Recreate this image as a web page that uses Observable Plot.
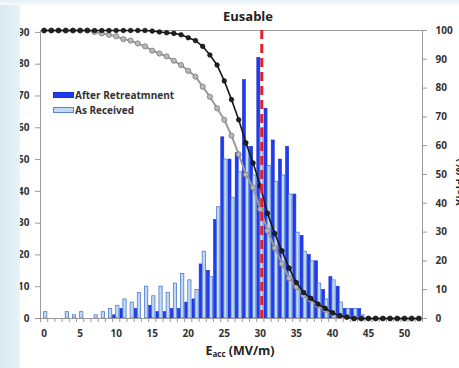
<!DOCTYPE html>
<html><head><meta charset="utf-8">
<script src="https://cdn.jsdelivr.net/npm/d3@7"></script>
<script src="https://cdn.jsdelivr.net/npm/@observablehq/plot@0.6"></script>
<style>
html,body{margin:0;padding:0;background:#fff;}
#wrap{position:relative;width:459px;height:368px;overflow:hidden;font-family:"Open Sans",sans-serif;color:#333;}
#chart{position:absolute;left:0;top:0;}
#chart svg{display:block;}
.strip-left{position:absolute;left:0;top:0;width:20px;height:368px;background:linear-gradient(to right,#d6e7ef,#e8f2f7);opacity:0.96;}
.strip-top{position:absolute;left:0;top:0;width:459px;height:5px;background:linear-gradient(to bottom,#e6f0f5,#f6fafc);}
.title{position:absolute;top:7px;left:248px;transform:translateX(-50%);font-weight:700;font-size:13px;color:#222;white-space:nowrap;}
.xtitle{position:absolute;top:342px;left:240px;transform:translateX(-50%);font-weight:700;font-size:12.5px;color:#222;white-space:nowrap;}
.xtitle sub{font-size:8px;vertical-align:-2px;}
.ytitle{position:absolute;left:459px;top:182px;transform:translate(-50%,-50%) rotate(-90deg);font-weight:700;font-size:11px;color:#222;white-space:nowrap;}
.leg{position:absolute;left:53px;font-size:10px;font-weight:700;color:#333;white-space:nowrap;line-height:12px;}
.sw{display:inline-block;width:21px;height:6px;vertical-align:1px;margin-right:1px;box-sizing:border-box;}
</style></head>
<body>
<div id="wrap">
  <div id="chart"></div>
  <div class="title">Eusable</div>
  <div class="xtitle">E<sub>acc</sub> (MV/m)</div>
  <div class="ytitle">Yield (%)</div>
  <div class="leg" style="top:89px"><span class="sw" style="background:#1f3cf5;border:1px solid #1a2ec8"></span>After Retreatmnent</div>
  <div class="leg" style="top:104px"><span class="sw" style="background:#c4d8f3;border:1px solid #5a84cf"></span>As Received</div>
  <div class="strip-left"></div>
  <div class="strip-top"></div>
</div>
<script>
const categories = [0,1,2,3,4,5,6,7,8,9,10,11,12,13,14,15,16,17,18,19,20,21,22,23,24,25,26,27,28,29,30,31,32,33,34,35,36,37,38,39,40,41,42,43,44,45,46,47,48,49,50,51,52];
const afterRetreatment = [0,0,0,0,0,0,0,0,0,0, 1,3,0,3,0,4,2,2,3,3, 5,6,17,15,31,57,50,52,75,54, 82,66,56,50,54,39,26,20,18,9, 13,10,3,3,3,0,0,0,0,0, 0,0,0];
const asReceived = [2,0,0,2,1,2,0,1,2,3, 4,6,5,8,10,7,10,8,11,14, 12,9,21,13,35,50,38,46,54,45, 60,48,43,45,39,27,21,18,11,6, 12,5,3,3,1,0,0,0,0,0, 0,0,0];
const yieldAfter = [100,100,100,100,100,100,100,100,100,100, 100,100,100,100,100,99.8,99.5,99.2,99,98.5, 97.5,96.5,94.5,91.5,88,82.5,76,69,61,54, 46,36.5,29.5,23.5,17.5,12.5,9,7,5,3.5, 2,1,0.5,0,0,0,0,0,0,0, 0,0,0];
const yieldReceived = [100,100,100,100,100,100,100,99.5,99,98.5, 98,97,96.5,95.5,94.5,93,92,91,89.5,88, 86,84,80.5,77,73,69,63.5,57,50,45.5, 38,30.5,24.5,19,14,11,8,6.5,4.5,3, 1.8,1,0.5,0,0,0,0,0,0,0, 0,0,0];
const xTickLabels = [0,5,10,15,20,25,30,35,40,45,50];
const leftTicks = [0,10,20,30,40,50,60,70,80,90];
const rightTicks = [0,10,20,30,40,50,60,70,80,90,100];
const usableE = [30.2];

const yMax = 90.6;
const k = yMax / 100;
const data = categories.map((x, i) => ({x, after: afterRetreatment[i], received: asReceived[i], yA: yieldAfter[i] * k, yR: yieldReceived[i] * k}));
const boundaries = categories.map(x => x - 0.5).concat([categories[categories.length - 1] + 0.5]);

const chart = Plot.plot({
  width: 459, height: 368,
  marginLeft: 40, marginRight: 37, marginTop: 30, marginBottom: 50,
  x: {domain: [-0.5, 52.5]},
  y: {domain: [0, yMax]},
  style: {fontFamily: "Open Sans", fontSize: "10px", color: "#333", background: "transparent", overflow: "visible"},
  marks: [
    Plot.rect(data.filter(d => d.after > 0), {x1: d => d.x - 0.42, x2: d => d.x, y1: 0, y2: "after", fill: "#1f3cf5", stroke: "#1a2ec8", strokeWidth: 0.6}),
    Plot.rect(data.filter(d => d.received > 0), {x1: d => d.x, x2: d => d.x + 0.45, y1: 0, y2: "received", fill: "#c4d8f3", stroke: "#4d7bd0", strokeWidth: 0.8}),
    Plot.frame({stroke: "#9a9a9a"}),
    Plot.axisY({anchor: "left", ticks: leftTicks, tickSize: 5, tickPadding: 6, fontWeight: "bold", stroke: "#999", label: null}),
    Plot.axisY({anchor: "right", ticks: rightTicks.map(v => v * k), tickFormat: v => String(Math.round(v / k)), tickSize: 4, tickPadding: 9, fontWeight: "bold", stroke: "#999", label: null}),
    Plot.axisX({ticks: boundaries, tickSize: 4, tickFormat: () => "", stroke: "#999", label: null}),
    Plot.axisX({ticks: xTickLabels, tickSize: 0, tickPadding: 11, fontWeight: "bold", label: null}),
    Plot.line(data, {x: "x", y: "yR", stroke: "#9a9a9a", strokeWidth: 2}),
    Plot.dot(data, {x: "x", y: "yR", r: 2.6, fill: "#b8b8b8", stroke: "#7a7a7a", strokeWidth: 0.8}),
    Plot.line(data, {x: "x", y: "yA", stroke: "#1a1a1a", strokeWidth: 1.6}),
    Plot.dot(data, {x: "x", y: "yA", r: 2.3, fill: "#222", stroke: "#000", strokeWidth: 0.6}),
    Plot.ruleX(usableE, {stroke: "#e0202a", strokeWidth: 3, strokeDasharray: "9,5"})
  ]
});
document.getElementById("chart").appendChild(chart);
</script>
</body></html>
